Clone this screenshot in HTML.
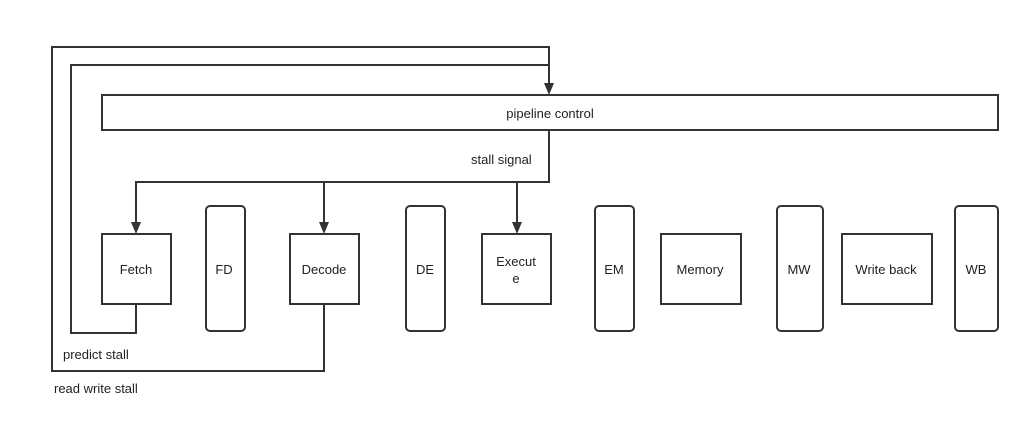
<!DOCTYPE html>
<html><head><style>
body{margin:0;background:#fff;}
svg text{font-family:"Liberation Sans",sans-serif;font-size:13px;fill:#222;}
</style></head><body>
<svg width="1030" height="432" viewBox="0 0 1030 432" xmlns="http://www.w3.org/2000/svg">
<defs><marker id="a" markerWidth="10" markerHeight="10" refX="5" refY="9" orient="auto" markerUnits="userSpaceOnUse"><path d="M0,0 L10,0 L5,10 z" fill="#333" transform="rotate(-90 5 5)"/></marker>
<marker id="d" viewBox="0 0 10 12" markerWidth="10" markerHeight="12" refX="5" refY="12" orient="0" markerUnits="userSpaceOnUse"><path d="M0,0 L10,0 L5,12 z" fill="#333"/></marker></defs>
<g fill="none" stroke="#333" stroke-width="2">
<polyline points="324,304 324,371 52,371 52,47 549,47 549,84"/>
<polyline points="136,304 136,333 71,333 71,65 549,65"/>
<rect x="102" y="95" width="896" height="35"/>
<polyline points="549,130 549,182 136,182 136,222"/>
<line x1="324" y1="182" x2="324" y2="222"/>
<line x1="517" y1="182" x2="517" y2="222"/>
<rect x="102" y="234" width="69" height="70"/>
<rect x="290" y="234" width="69" height="70"/>
<rect x="482" y="234" width="69" height="70"/>
<rect x="661" y="234" width="80" height="70"/>
<rect x="842" y="234" width="90" height="70"/>
<rect x="206" y="206" width="39" height="125" rx="4"/>
<rect x="406" y="206" width="39" height="125" rx="4"/>
<rect x="595" y="206" width="39" height="125" rx="4"/>
<rect x="777" y="206" width="46" height="125" rx="4"/>
<rect x="955" y="206" width="43" height="125" rx="4"/>
</g>
<g fill="#333">
<path d="M544,83 L554,83 L549,95 z"/>
<path d="M131,222 L141,222 L136,234 z"/>
<path d="M319,222 L329,222 L324,234 z"/>
<path d="M512,222 L522,222 L517,234 z"/>
</g>
<g text-anchor="middle">
<text x="550" y="118">pipeline control</text>
<text x="136" y="274">Fetch</text>
<text x="224" y="274">FD</text>
<text x="324" y="274">Decode</text>
<text x="425" y="274">DE</text>
<text x="516" y="266">Execut</text>
<text x="516" y="283">e</text>
<text x="614" y="274">EM</text>
<text x="700" y="274">Memory</text>
<text x="799" y="274">MW</text>
<text x="886" y="274">Write back</text>
<text x="976" y="274">WB</text>
</g>
<text x="471" y="164">stall signal</text>
<text x="63" y="359">predict stall</text>
<text x="54" y="393">read write stall</text>
</svg>
</body></html>
